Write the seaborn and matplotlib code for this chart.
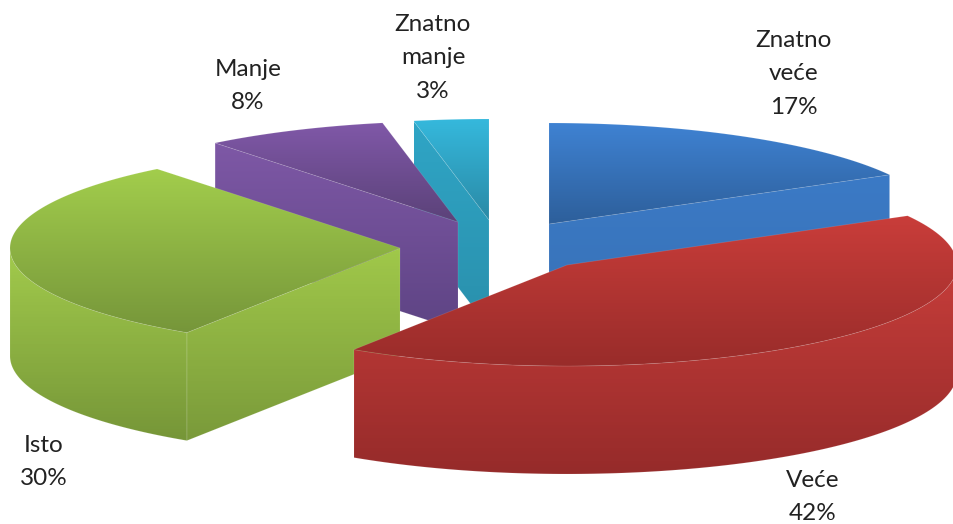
import numpy as np
import matplotlib
matplotlib.use("Agg")
import matplotlib.pyplot as plt
from matplotlib.patches import Polygon
import seaborn as sns

categories = ["Znatno\nveće", "Veće", "Isto", "Manje", "Znatno\nmanje"]
values = [16.9, 42.3, 30.1, 7.6, 3.1]

# layout, all in pixels of the 954x524 picture
apex = [(549, 224), (567, 265), (400, 248), (458, 222), (489, 220)]
label_pos = [(794, 74), (813, 497), (44, 462), (248, 86), (433, 58)]
rx, ry, depth = 390, 101, 108

top_colors = [("#3f82d2", "#2d5f9b"), ("#c93d3a", "#992c2a"), ("#a2cd4c", "#76963a"),
              ("#8058a8", "#5b4279"), ("#35b8dc", "#2a8aa6")]
side_colors = [("#3f80cf", "#3a75bb"), ("#c63d3a", "#962b2a"), ("#a2cb4c", "#769638"),
               ("#8058a8", "#5c4280"), ("#35b4d6", "#2a90ac")]
wall_cut = [("#3b7ac6", "#3871b5"), ("#c63c39", "#8c2827"), ("#a0c84a", "#7a9a3a"),
            ("#7e58a6", "#5e4484"), ("#2fa5c6", "#2a90ac")]

sns.set_theme(style="white")
plt.rcParams["font.family"] = ["Lato", "DejaVu Sans"]

fig = plt.figure(figsize=(9.54, 5.24), dpi=100)
ax = fig.add_axes([0, 0, 1, 1])
ax.set_xlim(0, 954)
ax.set_ylim(524, 0)
ax.axis("off")


def rim(center, a0, a1):
    # points on the ellipse, angle clockwise from 12 o'clock
    t = np.radians(np.linspace(a0, a1, 120))
    return np.column_stack([center[0] + rx * np.sin(t), center[1] - ry * np.cos(t)])


def fill(points, colors, z):
    # polygon with a vertical gradient, top colour to bottom colour
    points = np.asarray(points)
    cmap = sns.blend_palette(colors, 64, as_cmap=True)
    y0, y1 = points[:, 1].min(), points[:, 1].max()
    x0, x1 = points[:, 0].min(), points[:, 0].max()
    grad = np.linspace(0, 1, 64).reshape(-1, 1)
    im = ax.imshow(grad, cmap=cmap, extent=(x0, x1, y1, y0), aspect="auto", zorder=z)
    patch = Polygon(points, closed=True, transform=ax.transData, fc="none",
                    ec=(1, 1, 1, 0.12), lw=0.6, zorder=z + 0.1)
    ax.add_patch(patch)
    im.set_clip_path(patch)


def drop(points):
    return points + np.array([0, depth])


fractions = np.array(values) / sum(values) * 360
ends = np.cumsum(fractions)
starts = ends - fractions

# back to front: cyan, purple, blue, green, red
for z, i in enumerate([4, 3, 0, 2, 1]):
    c = np.array(apex[i], dtype=float)
    a0, a1 = starts[i], ends[i]
    base = z * 10 + 1
    edge = rim(c, a0, a1)

    # cut faces that look to the viewer
    for a, show in ((a0, np.sin(np.radians(a0)) < 0), (a1, np.sin(np.radians(a1)) > 0)):
        if show:
            p = rim(c, a, a)[0]
            fill([c, p, drop(p), drop(c)], wall_cut[i], base)

    # outer wall, only the front half of the ellipse
    lo, hi = max(a0, 90), min(a1, 270)
    if lo < hi:
        w = rim(c, lo, hi)
        fill(np.vstack([w, drop(w)[::-1]]), side_colors[i], base + 1)

    fill(np.vstack([[c], edge]), top_colors[i], base + 2)

for cat, val, pos in zip(categories, values, label_pos):
    ax.text(pos[0], pos[1], f"{cat}\n{round(val)}%", ha="center", va="center", fontsize=17.5,
            color="#222222", linespacing=1.72, zorder=100)

fig.savefig("out.png", dpi=100)
